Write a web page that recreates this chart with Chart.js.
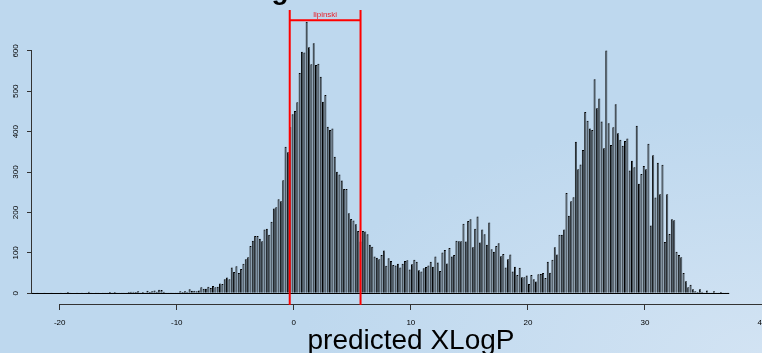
<!DOCTYPE html>
<html>
<head>
<meta charset="utf-8">
<script src="https://cdn.jsdelivr.net/npm/chart.js@4.4.0/dist/chart.umd.min.js"></script>
<style>
  html, body { margin: 0; padding: 0; }
  body {
    width: 762px; height: 353px; overflow: hidden;
    background: radial-gradient(ellipse 460px 240px at 100% 100%, #d2e3f3 0%, #bed8ee 100%);
  }
</style>
</head>
<body>
<canvas id="xlogpHist" width="762" height="353"></canvas>
<script>
// histogram bins: start edge and width (XLogP units)
const binStart = -22.4;
const binWidth = 0.2;

// counts per bin
const counts = [
  1,0,1,0,0,1,0,0,1,0, 0,0,1,0,1,3,1,0,0,1, 0,1,0,1,4,1,0,1,1,0,
  1,1,1,3,2,3,1,1,2,1, 1,3,4,4,3,5,2,3,2,6, 3,5,7,4,9,
  8,4,1,1,2,1,2,1,5,3, 5,4,10,6,6,5,7,15,11,11, 16,13,18,15,16,24,23,35,39,35,
  64,53,67,50,60,73,84,89,117,130, 142,142,135,129,158,160,145,177,210,213,
  233,228,280,363,349,411,443,451,473,545, 598,596,672,609,567,619,565,568,536,474,
  491,412,404,408,338,301,294,279,258,258, 198,184,180,171,154,128,154,153,146,120,
  115,91,88,84,95,106,68,87,80,
  70,69,73,64,73,80,82,59,72,83, 78,57,54,62,65,69,78,66,91,76,
  55,101,107,74,112,91,95,130,129,129, 172,128,179,183,114,160,190,126,158,146,
  120,175,109,103,117,124,92,97,64,84, 96,54,66,45,63,40,40,44,23,45,
  35,29,47,
  48,50,38,78,51,83,114,96,145,145,158,248,192,228,238,
  375,307,319,355,449,427,408,404,530,458, 482,425,359,601,421,367,411,468,396,380,
  365,377,383,304,328,312,415,271,295,315, 307,370,168,342,237,323,245,318,127,245,
  147,183,181,103,95,89,
  50,30,15,21,10,5,3,10,4,2, 7,2,1,5,1,1,3,1,1,2
];

const xTicks = [-20, -10, 0, 10, 20, 30, 40];
const yTicks = [0, 100, 200, 300, 400, 500, 600];

// lipinski bracket: x range, bracket top and bar height (in counts)
const lipinskiRange = [-0.35, 5.7];
const lipinskiTop = 701;
const lipinskiBar = 676;
const lipinskiLabel = 'lipinski';

const xLabel = 'predicted XLogP';
const mainTitle = 'XLogP distribution'; // cut off at the top, only the g tail shows
const fontFamily = "'Liberation Sans', Arial, sans-serif";

const points = counts.map((c, i) => ({ x: binStart + binWidth * (i + 0.5), y: c }));

const rAxes = {
  id: 'rAxes',
  afterDatasetsDraw(chart) {
    const { ctx, chartArea, scales: { x, y } } = chart;
    ctx.save();
    // baseline under the bars
    ctx.strokeStyle = '#000';
    ctx.lineWidth = 1;
    const y0 = Math.round(y.getPixelForValue(0)) + 0.5;
    ctx.beginPath();
    ctx.moveTo(x.getPixelForValue(binStart), y0);
    ctx.lineTo(x.getPixelForValue(binStart + binWidth * counts.length), y0);
    ctx.stroke();

    // axis lines (only over the tick range, R style)
    ctx.strokeStyle = '#333';
    const xb = Math.round(chartArea.bottom) + 0.5;
    ctx.beginPath();
    ctx.moveTo(x.getPixelForValue(xTicks[0]), xb);
    ctx.lineTo(x.getPixelForValue(xTicks[xTicks.length - 1]), xb);
    ctx.stroke();
    const yl = Math.round(chartArea.left) - 0.5;
    ctx.beginPath();
    ctx.moveTo(yl, y.getPixelForValue(yTicks[0]));
    ctx.lineTo(yl, y.getPixelForValue(yTicks[yTicks.length - 1]));
    ctx.stroke();

    // lipinski bracket
    const xa = x.getPixelForValue(lipinskiRange[0]);
    const xc = x.getPixelForValue(lipinskiRange[1]);
    const yt = y.getPixelForValue(lipinskiTop);
    const yh = y.getPixelForValue(lipinskiBar);
    ctx.strokeStyle = '#ff0000';
    ctx.lineWidth = 2;
    ctx.beginPath();
    ctx.moveTo(xa, yt); ctx.lineTo(xa, chartArea.bottom + 1);
    ctx.moveTo(xc, yt); ctx.lineTo(xc, chartArea.bottom + 1);
    ctx.moveTo(xa, yh); ctx.lineTo(xc, yh);
    ctx.stroke();
    ctx.fillStyle = '#e8202a';
    ctx.font = '8px ' + fontFamily;
    ctx.textAlign = 'center';
    ctx.textBaseline = 'alphabetic';
    ctx.fillText(lipinskiLabel, (xa + xc) / 2, yh - 3);

    // x axis title
    ctx.fillStyle = '#000';
    ctx.font = '28px ' + fontFamily;
    ctx.fillText(xLabel, 411, 349);

    // main title, mostly above the window
    ctx.font = 'bold 28px ' + fontFamily;
    ctx.textAlign = 'left';
    const lead = ctx.measureText('XLo').width + ctx.measureText('g').width / 2;
    ctx.fillText(mainTitle, 280 - lead, -1);
    ctx.restore();
  }
};

new Chart(document.getElementById('xlogpHist'), {
  type: 'bar',
  data: {
    datasets: [{
      data: points,
      backgroundColor: '#46525c',
      borderColor: '#000',
      borderWidth: { left: 1, top: 1, right: 0, bottom: 0 },
      borderSkipped: false,
      barPercentage: 0.92,
      categoryPercentage: 1
    }]
  },
  options: {
    responsive: false,
    animation: false,
    devicePixelRatio: 1,
    layout: { padding: 0 },
    plugins: { legend: { display: false }, tooltip: { enabled: false } },
    scales: {
      x: {
        type: 'linear',
        offset: false,
        min: -22.37,
        max: 40,
        afterFit: (s) => { s.height = 49; s.paddingLeft = 0; s.paddingRight = 0; },
        afterBuildTicks: (s) => { s.ticks = xTicks.map(v => ({ value: v })); },
        grid: { display: true, offset: false, drawOnChartArea: false, drawTicks: true, tickLength: 6, color: '#333' },
        border: { display: false },
        ticks: { autoSkip: false, maxRotation: 0, padding: 8, color: '#000', font: { size: 8, family: fontFamily } }
      },
      y: {
        min: -26.5,
        max: 726,
        afterFit: (s) => { s.width = 32; s.paddingTop = 0; s.paddingBottom = 0; },
        afterBuildTicks: (s) => { s.ticks = yTicks.map(v => ({ value: v })); },
        grid: { display: true, drawOnChartArea: false, drawTicks: true, tickLength: 5, color: '#333' },
        border: { display: false },
        ticks: { minRotation: 90, maxRotation: 90, crossAlign: 'center', padding: 5, color: '#000', font: { size: 8, family: fontFamily } }
      }
    }
  },
  plugins: [rAxes]
});
</script>
</body>
</html>
